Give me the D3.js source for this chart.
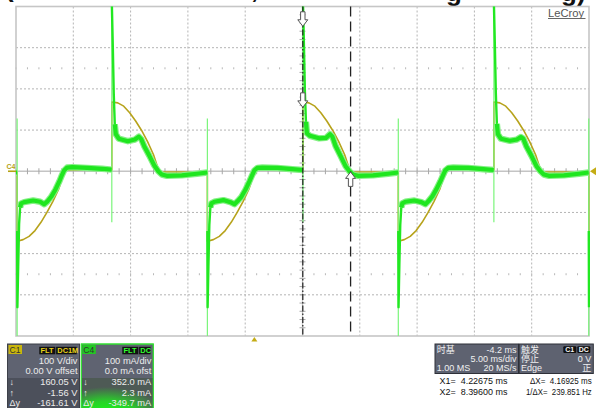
<!DOCTYPE html>
<html><head><meta charset="utf-8">
<script src="https://cdn.jsdelivr.net/npm/d3@7/dist/d3.min.js"></script>
<style>html,body{margin:0;padding:0;background:#fff;overflow:hidden}
text{font-family:"Liberation Sans",Arial,"Noto Sans CJK SC",sans-serif}</style>
</head><body>
<svg id="c" width="597" height="408"></svg>
<script>
// ---- data ----
const timeDomain = [-20.8, 29.2];      // ms across the 10 divisions (5 ms/div, delay -4.2 ms)
const voltDomain = [-400, 400];        // C1: 100 V/div, 8 divisions
const currDomain = [-400, 400];        // C4: 100 mA/div, 8 divisions

// C1 voltage [ms, V]
const c1Voltage = [
[-20.80,-2],[-20.70,-2],
[-20.70,-170],[-20.18,-166],[-19.66,-158],[-19.14,-144],[-18.62,-124],[-18.10,-100],[-17.58,-73],[-17.06,-42],[-16.75,-15],[-16.54,2],[-16.0,3],[-12.44,3],
[-12.44,168],[-11.92,166],[-11.40,158],[-10.88,142],[-10.36,122],[-9.84,99],[-9.32,72],[-8.80,40],[-8.49,14],[-8.28,-1.5],[-7.6,-2],[-4.10,-2],
[-4.10,-170],[-3.58,-166],[-3.06,-158],[-2.54,-144],[-2.02,-124],[-1.50,-100],[-0.98,-73],[-0.46,-42],[-0.15,-15],[0.06,2],[0.6,3],[4.24,3],
[4.24,168],[4.76,166],[5.28,158],[5.80,142],[6.32,122],[6.84,99],[7.36,72],[7.88,40],[8.19,14],[8.40,-1.5],[9.0,-2],[12.56,-2],
[12.56,-170],[13.08,-166],[13.60,-158],[14.12,-144],[14.64,-124],[15.16,-100],[15.68,-73],[16.20,-42],[16.51,-15],[16.72,2],[17.3,3],[20.90,3],
[20.90,168],[21.42,166],[21.94,158],[22.46,142],[22.98,122],[23.50,99],[24.02,72],[24.54,40],[24.85,14],[25.06,-1.5],[25.7,-2],[29.18,-2],
[29.18,-170],[29.20,-170]
];

// C4 current [ms, mA]; null = pen lifted
const c4Current = [
[-20.80,-3],[-20.71,-3],[-20.71,null],
[-20.70,-145],[-20.68,-330],[-20.61,-232],[-20.53,-128],[-20.44,-88],[-20.35,-78],[-20.09,-75],[-19.30,-71],[-18.69,-74],[-18.34,-80],[-18.08,-74],[-17.73,-62],[-17.38,-46],[-17.04,-26],[-16.77,-8],[-16.60,2],[-16.34,9],[-15.90,10],[-14.59,8],[-13.28,6],[-12.45,4],[-12.45,null],
[-12.44,410],[-12.35,300],[-12.27,188],[-12.18,114],[-12.09,90],[-11.83,79],[-11.04,73],[-10.43,77],[-10.08,84],[-9.87,78],[-9.60,60],[-9.17,38],[-8.73,14],[-8.38,0],[-8.08,-8],[-7.64,-11],[-6.33,-10],[-5.02,-6],[-4.11,-3],[-4.11,null],
[-4.10,-145],[-4.08,-330],[-4.01,-230],[-3.93,-130],[-3.84,-88],[-3.75,-78],[-3.49,-74],[-2.70,-70],[-2.09,-75],[-1.74,-80],[-1.48,-73],[-1.13,-62],[-0.78,-45],[-0.44,-25],[-0.17,-8],[0.00,2],[0.26,8],[0.70,9],[2.01,8],[3.32,5],[4.23,3],[4.23,null],
[4.24,410],[4.33,302],[4.41,192],[4.50,120],[4.59,92],[4.85,86],[5.64,80],[6.25,81],[6.60,90],[6.81,84],[7.08,62],[7.51,38],[7.95,13],[8.30,0],[8.60,-8],[9.04,-11],[10.35,-10],[11.66,-6],[12.55,-3],[12.55,null],
[12.56,-145],[12.58,-330],[12.65,-228],[12.73,-130],[12.82,-88],[12.91,-78],[13.17,-74],[13.96,-71],[14.57,-75],[14.92,-80],[15.18,-73],[15.53,-61],[15.88,-44],[16.22,-25],[16.49,-8],[16.66,2],[16.92,8],[17.36,9],[18.67,8],[19.98,5],[20.89,3],[20.89,null],
[20.90,410],[20.99,300],[21.07,190],[21.16,115],[21.25,90],[21.51,79],[22.30,74],[22.91,77],[23.26,83],[23.47,79],[23.74,60],[24.17,38],[24.61,13],[24.96,0],[25.26,-8],[25.70,-11],[27.01,-10],[28.32,-6],[29.17,-3],[29.17,null],
[29.18,-145],[29.20,-330]
];

// thin switching spikes on C4 (ms, top mA, bottom mA)
const spikeTimes = [-20.70, -12.44, -4.10, 4.24, 12.56, 20.90, 29.18];
const spikeHigh  = [128, 420, 128, 420, 128, 420, 128];
const spikeLow   = [-420, -124, -420, -124, -420, -124, -420];

// cursors
const cursorTimes = [4.22675, 8.39600];
const cursorC1 = [160.05, -1.56];
const cursorC4 = [352.0, 2.3];
const triggerTime = 0;

// info panel texts
const c1Lines = ["100 V/div", "0.00 V offset"];
const c1Cursor = [["\u2193","160.05 V"],["\u2191","-1.56 V"],["\u0394y","-161.61 V"]];
const c4Lines = ["100 mA/div", "0.0 mA ofst"];
const c4Cursor = [["\u2193","352.0 mA"],["\u2191","2.3 mA"],["\u0394y","-349.7 mA"]];
const tbRows = [["时基","-4.2 ms"],["","5.00 ms/div"],["1.00 MS","20 MS/s"]];
const trRows = [["触发",""],["停止","0 V"],["Edge","正"]];
const cursorReadout = [["X1=  4.22675 ms","\u0394X=  4.16925 ms"],["X2=  8.39600 ms","1/\u0394X=  239.851 Hz"]];

// ---- drawing ----
const svg = d3.select("#c");
const P = {l:16, r:589, t:6.5, b:336};
const x = d3.scaleLinear().domain(timeDomain).range([P.l, P.r]);
const yV = d3.scaleLinear().domain(voltDomain).range([P.b, P.t]);
const yI = d3.scaleLinear().domain(currDomain).range([P.b, P.t]);
const gx = d3.scaleLinear().domain([0,10]).range([P.l, P.r]);
const gy = d3.scaleLinear().domain([0,8]).range([P.t, P.b]);

svg.append("rect").attr("width",597).attr("height",408).attr("fill","#fff");

// title fragments clipped at top
const tf = svg.append("g").attr("font-weight","bold").attr("font-size",26).attr("fill","#111");
tf.append("text").attr("x",5).attr("y",-3).text("(");
tf.append("text").attr("x",251).attr("y",-2).text(",");
tf.append("text").attr("x",446).attr("y",0.5).text("g");
tf.append("text").attr("x",561).attr("y",0.5).text("g)");

// grid
const grid = svg.append("g");
d3.range(1,10).filter(i=>i!==5).forEach(i=>{
  grid.append("line").attr("x1",gx(i)).attr("x2",gx(i)).attr("y1",P.t).attr("y2",P.b)
    .attr("stroke","#b4b4b4").attr("stroke-dasharray","2,2").attr("stroke-width",1);
});
d3.range(1,8).filter(i=>i!==4).forEach(i=>{
  grid.append("line").attr("y1",gy(i)).attr("y2",gy(i)).attr("x1",P.l).attr("x2",P.r)
    .attr("stroke","#b4b4b4").attr("stroke-dasharray","2,2").attr("stroke-width",1);
});
grid.append("line").attr("x1",P.l).attr("x2",P.r).attr("y1",gy(4)).attr("y2",gy(4)).attr("stroke","#c4c4c4").attr("stroke-width",1.6);
grid.append("line").attr("x1",gx(5)).attr("x2",gx(5)).attr("y1",P.t).attr("y2",P.b).attr("stroke","#c4c4c4").attr("stroke-width",1.2);
d3.range(0,50).forEach(k=>{
  const xx = gx(k*0.2);
  grid.append("line").attr("x1",xx).attr("x2",xx).attr("y1",gy(4)-3).attr("y2",gy(4)+3).attr("stroke","#a8a8a8");
  [1.5,6.5].forEach(r=>{
    grid.append("line").attr("x1",xx).attr("x2",xx).attr("y1",gy(r)-1).attr("y2",gy(r)+1).attr("stroke","#b8b8b8");
  });
});
d3.range(0,40).forEach(k=>{
  const yy = gy(k*0.2);
  grid.append("line").attr("y1",yy).attr("y2",yy).attr("x1",gx(5)-3).attr("x2",gx(5)+3).attr("stroke","#a8a8a8");
});
grid.append("rect").attr("x",P.l).attr("y",P.t).attr("width",P.r-P.l).attr("height",P.b-P.t)
  .attr("fill","none").attr("stroke","#c6c6c6").attr("stroke-width",1.6);

// clip
svg.append("clipPath").attr("id","clp").append("rect").attr("x",P.l).attr("y",P.t).attr("width",P.r-P.l+1).attr("height",P.b-P.t);
const tr = svg.append("g").attr("clip-path","url(#clp)");

// C1 voltage (olive)
tr.append("path").datum(c1Voltage)
  .attr("d", d3.line().x(d=>x(d[0])).y(d=>yV(d[1])))
  .attr("fill","none").attr("stroke","#b7a31c").attr("stroke-width",1.6).attr("stroke-linejoin","round");

// thin spikes
spikeTimes.forEach((t,i)=>{
  tr.append("line").attr("x1",x(t)).attr("x2",x(t)).attr("y1",yI(spikeHigh[i])).attr("y2",yI(spikeLow[i]))
    .attr("stroke","#7af57a").attr("stroke-width",1.2);
});

// C4 current: thin pen for fast edges, noisy band where the signal is slow
const lineAll = d3.line().defined(d=>d[1]!==null).x(d=>x(d[0])).y(d=>yI(d[1]));
const lineBand = d3.line().defined(d=>d[1]!==null && Math.abs(d[1])<=120).x(d=>x(d[0])).y(d=>yI(d[1]));
tr.append("path").datum(c4Current).attr("d",lineAll).attr("fill","none")
  .attr("stroke","#22e822").attr("stroke-width",2.4).attr("stroke-linejoin","round");
tr.append("path").datum(c4Current).attr("d",lineBand).attr("fill","none")
  .attr("stroke","#86f086").attr("stroke-width",6.4).attr("stroke-linejoin","round").attr("stroke-linecap","butt");
tr.append("path").datum(c4Current).attr("d",lineBand).attr("fill","none")
  .attr("stroke","#1fe61f").attr("stroke-width",4.2).attr("stroke-linejoin","round").attr("stroke-linecap","butt");

// cursors
svg.append("line").attr("x1",x(cursorTimes[0])).attr("x2",x(cursorTimes[0])).attr("y1",P.t).attr("y2",P.b)
  .attr("stroke","#222").attr("stroke-width",1.2).attr("stroke-dasharray","6,2,1.5,2");
svg.append("line").attr("x1",x(cursorTimes[1])).attr("x2",x(cursorTimes[1])).attr("y1",P.t).attr("y2",P.b)
  .attr("stroke","#222").attr("stroke-width",1.3).attr("stroke-dasharray","10,5");

function arrow(cx, tip, dir){ // dir 1 = pointing down, -1 = pointing up
  const h=6.5, s=8, hw=5, sw=2.2;
  const pts = [[cx,tip],[cx-hw,tip-dir*h],[cx-sw,tip-dir*h],[cx-sw,tip-dir*(h+s)],[cx+sw,tip-dir*(h+s)],[cx+sw,tip-dir*h],[cx+hw,tip-dir*h]];
  svg.append("polygon").attr("points",pts.map(p=>p.join(",")).join(" "))
    .attr("fill","#fff").attr("stroke","#555").attr("stroke-width",1);
}
arrow(x(cursorTimes[0]), yI(cursorC4[0]), 1);
arrow(x(cursorTimes[0]), yV(cursorC1[0])+2, 1);
arrow(x(cursorTimes[1]), yV(cursorC1[1]), -1);

// channel markers
svg.append("text").attr("x",6.5).attr("y",168.5).attr("font-size",7).attr("fill","#b5a214").attr("font-weight","bold").text("C4");
svg.append("line").attr("x1",8).attr("x2",P.l).attr("y1",yI(0)).attr("y2",yI(0)).attr("stroke","#b5a214").attr("stroke-width",1.6);
svg.append("polygon").attr("points",[[P.r+1,yV(0)],[P.r+7,yV(0)-4],[P.r+7,yV(0)+4]].map(p=>p.join(",")).join(" ")).attr("fill","#c4ac14");
svg.append("polygon").attr("points",[[x(triggerTime),P.b+1],[x(triggerTime)-3,P.b+5.5],[x(triggerTime)+3,P.b+5.5]].map(p=>p.join(",")).join(" ")).attr("fill","#c4ac14");

// LeCroy logo
svg.append("text").attr("x",548).attr("y",16.5).attr("font-size",11.2).attr("fill","#555").text("LeCroy");
svg.append("line").attr("x1",548).attr("x2",585.5).attr("y1",18.5).attr("y2",18.5).attr("stroke","#666").attr("stroke-width",1);

// ---- bottom panels ----
const defs = svg.append("defs");
const rg = defs.append("radialGradient").attr("id","glow").attr("cx","0.35").attr("cy","1.05").attr("r","0.8");
rg.append("stop").attr("offset","0%").attr("stop-color","#14ff14");
rg.append("stop").attr("offset","50%").attr("stop-color","#28d228");
rg.append("stop").attr("offset","100%").attr("stop-color","#4e5a55");

function chanPanel(x0, label, labelBg, tagColor, tags, lines, cur, glow, border){
  const g = svg.append("g");
  g.append("rect").attr("x",x0).attr("y",344).attr("width",72).attr("height",70).attr("fill","#5f6371")
    .attr("stroke",border||"#3d4049").attr("stroke-width",1);
  g.append("rect").attr("x",x0+0.5).attr("y",378).attr("width",71).attr("height",36).attr("fill",glow?"url(#glow)":"#4c505b");
  if(border) g.append("rect").attr("x",x0).attr("y",344).attr("width",72).attr("height",70).attr("fill","none").attr("stroke",border).attr("stroke-width",1);
  g.append("rect").attr("x",x0+1).attr("y",345).attr("width",13.5).attr("height",9).attr("fill",labelBg);
  g.append("text").attr("x",x0+2).attr("y",352.8).attr("font-size",8.5).attr("fill","#333").text(label);
  let tx = x0+70;
  for(let i=tags.length-1;i>=0;i--){
    const w = tags[i].length*4.6+3;
    tx -= w;
    g.append("rect").attr("x",tx).attr("y",346.8).attr("width",w-0.8).attr("height",7.5).attr("fill","#111");
    g.append("text").attr("x",tx+1.2).attr("y",353.3).attr("font-size",7.4).attr("font-weight","bold").attr("fill",tagColor).text(tags[i]);
  }
  lines.forEach((s,i)=>g.append("text").attr("x",x0+70).attr("y",364.3+i*10).attr("text-anchor","end").attr("font-size",9.3).attr("fill","#ececec").text(s));
  cur.forEach((r,i)=>{
    g.append("text").attr("x",x0+2).attr("y",385+i*10.7).attr("font-size",9).attr("fill","#ececec").text(r[0]);
    g.append("text").attr("x",x0+70).attr("y",385+i*10.7).attr("text-anchor","end").attr("font-size",9.3).attr("fill","#ececec").text(r[1]);
  });
}
chanPanel(7.5, "C1", "#c9b60c", "#e8d21a", ["FLT","DC1M"], c1Lines, c1Cursor, false, null);
chanPanel(81.3, "C4", "#22c822", "#33ff33", ["FLT","DC"], c4Lines, c4Cursor, true, "#33e033");

function infoPanel(x0, w, rows, head){
  const g = svg.append("g");
  g.append("rect").attr("x",x0).attr("y",344).attr("width",w).attr("height",29.5).attr("fill","#5e6270").attr("stroke","#2e3038").attr("stroke-width",1);
  rows.forEach((r,i)=>{
    g.append("text").attr("x",x0+1.8).attr("y",352.5+i*9.3).attr("font-size",9).attr("fill","#f0f0f0").text(r[0]);
    g.append("text").attr("x",x0+w-2).attr("y",352.5+i*9.3).attr("text-anchor","end").attr("font-size",9).attr("fill","#f0f0f0").text(r[1]);
  });
  if(head){
    head.forEach((h,k)=>{
      const bx = x0+w-30+k*14;
      g.append("rect").attr("x",bx).attr("y",346.3).attr("width",13).attr("height",6.8).attr("fill","#111").attr("rx",1);
      g.append("text").attr("x",bx+6.5).attr("y",352.2).attr("text-anchor","middle").attr("font-size",7).attr("font-weight","bold").attr("fill","#f4f4f4").text(h);
    });
  }
}
infoPanel(435, 83.5, tbRows, null);
infoPanel(519.3, 74, trRows, ["C1","DC"]);

cursorReadout.forEach((r,i)=>{
  const yy = 383.5 + i*11.8;
  svg.append("text").attr("x",439.5).attr("y",yy).attr("font-size",9.4).attr("fill","#111")
    .attr("textLength",68).attr("lengthAdjust","spacingAndGlyphs").attr("xml:space","preserve").style("white-space","pre").text(r[0]);
  svg.append("text").attr("x",i===0?530:526).attr("y",yy).attr("font-size",9.4).attr("fill","#111")
    .attr("textLength",i===0?61.7:65.7).attr("lengthAdjust","spacingAndGlyphs").style("white-space","pre").text(r[1]);
});
</script>
</body></html>
